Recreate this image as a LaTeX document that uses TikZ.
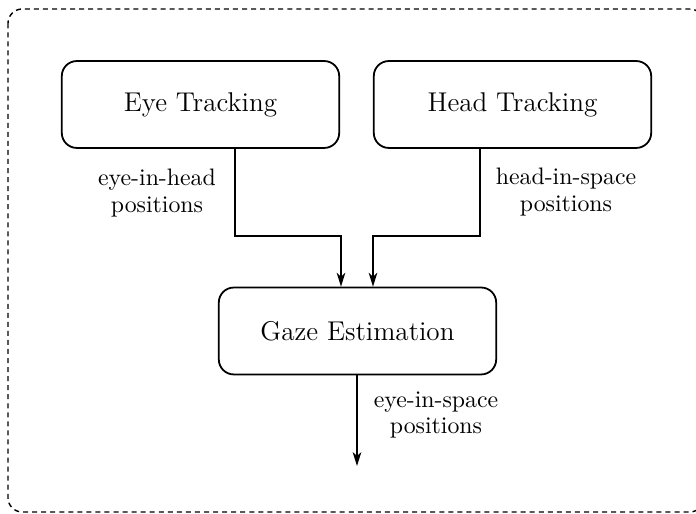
\documentclass[tikz,border=0pt]{standalone}
\usetikzlibrary{arrows.meta}
\begin{document}
\begin{tikzpicture}[x=0.42pt, y=-0.42pt,
  stage/.style={draw, line width=0.75pt, rounded corners=6.3pt,
    minimum width=116.5pt, minimum height=36.5pt, inner sep=0pt,
    font=\fontsize{11.4}{13}\selectfont},
  flow/.style={draw, line width=0.7pt,
    -{Stealth[length=5.8pt, width=3.6pt, inset=1.6pt]}},
  note/.style={align=center, inner sep=0pt,
    font=\fontsize{10}{11}\selectfont},
  frame/.style={draw, line width=0.6pt, rounded corners=6pt,
    dash pattern=on 2.1pt off 1.7pt}]
  \useasboundingbox (0,0) rectangle (696,514);

  % outer dashed frame (its right side runs past the page edge)
  \draw[frame] (8,9) rectangle (704,512);

  % processing stages
  \node[stage] (eye)  at (200.5,104.5) {Eye Tracking};
  \node[stage] (head) at (512.5,104.5) {Head Tracking};
  \node[stage] (gaze) at (357.5,331)   {Gaze Estimation};

  % bend points and the free end of the output arrow
  \coordinate (eyebend)  at (235,236);
  \coordinate (headbend) at (480,236);
  \coordinate (gazein1)  at (341,236);
  \coordinate (gazein2)  at (373,236);
  \coordinate (out)      at (357,466);

  % data flow
  \draw[flow] (eye.south -| eyebend) -- (eyebend) -- (gazein1) -- (gazein1 |- gaze.north);
  \draw[flow] (head.south -| headbend) -- (headbend) -- (gazein2) -- (gazein2 |- gaze.north);
  \draw[flow] (gaze.south -| out) -- (out);

  % signal labels
  \node[note] (eyelabel)  at (157,193) {eye-in-head\\positions};
  \node[note] (headlabel) at (566,192) {head-in-space\\positions};
  \node[note] (outlabel)  at (436,415) {eye-in-space\\positions};
\end{tikzpicture}
\end{document}
